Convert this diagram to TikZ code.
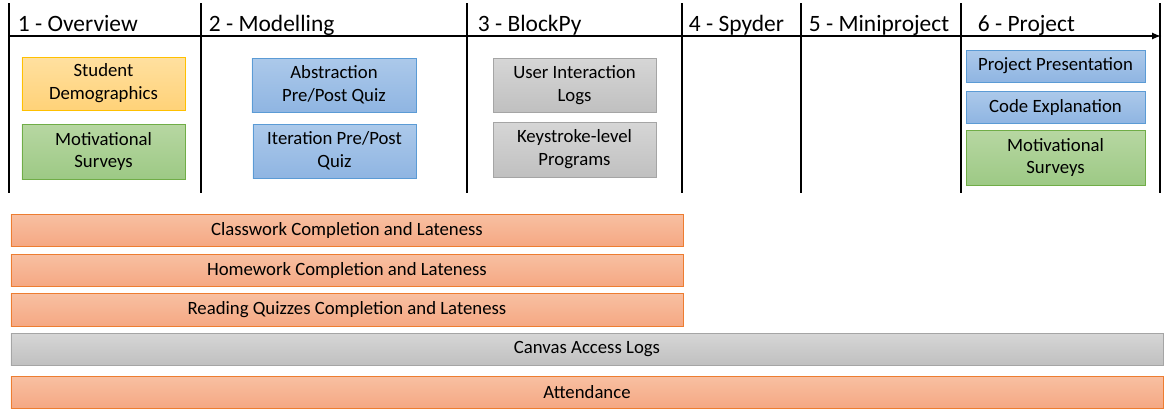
\documentclass[tikz,border=0pt]{standalone}
\usepackage{fontspec}
\setmainfont{Carlito}
\usetikzlibrary{arrows}

\definecolor{yelline}{HTML}{FFC000}
\definecolor{greline}{HTML}{70AD47}
\definecolor{bluline}{HTML}{5B9BD5}
\definecolor{grayline}{HTML}{A5A5A5}
\definecolor{orgline}{HTML}{ED7D31}

\tikzset{
    phase/.style={anchor=base west, inner sep=0pt, font=\fontsize{20}{24}\selectfont},
    databox/.style={draw, line width=0.8pt, inner sep=0pt, align=center,
        font=\fontsize{16}{19.5}\selectfont},
    yelbox/.style={databox, draw=yelline, top color={rgb,255:red,255;green,224;blue,160}, bottom color={rgb,255:red,255;green,210;blue,120}},
    grebox/.style={databox, draw=greline, top color={rgb,255:red,183;green,215;blue,162}, bottom color={rgb,255:red,157;green,201;blue,133}},
    blubox/.style={databox, draw=bluline, top color={rgb,255:red,172;green,201;blue,234}, bottom color={rgb,255:red,143;green,181;blue,226}},
    graybox/.style={databox, draw=grayline, top color={rgb,255:red,214;green,214;blue,214}, bottom color={rgb,255:red,192;green,192;blue,192}},
    orgbox/.style={databox, draw=orgline, top color={rgb,255:red,248;green,192;blue,162}, bottom color={rgb,255:red,245;green,168;blue,131}},
}

\begin{document}
\begin{tikzpicture}[x=0.03cm, y=-0.03cm, line width=1.6pt]
    \useasboundingbox (0,0) rectangle (1170,415);

    % Time line
    \coordinate (start) at (9,36);
    \coordinate (end) at (1161,36);
    \draw[-latex] (start) -- (end);

    % Phase borders
    \foreach \x in {9,201,467,682,801,961,1160}
        \draw (\x,3) -- (\x,193);

    \node[phase] (overview) at (17,31) {1 - Overview};
    \node[phase] (modelling) at (208,31) {2 - Modelling};
    \node[phase] (blockpy) at (477,31) {3 - BlockPy};
    \node[phase] (spyder) at (688,31) {4 - Spyder};
    \node[phase] (miniproj) at (808,31) {5 - Miniproject};
    \node[phase] (project) at (977,31) {6 - Project};

    % 1 - Overview
    \node[yelbox, minimum width=4.89cm, minimum height=1.59cm] (demo) at (103.5,83.5) {Student\\Demographics};% draw the box
    \node[grebox, minimum width=4.89cm, minimum height=1.65cm] (survey) at (103.5,151.5) {Motivational\\Surveys};% draw the box

    % 2 - Modelling
    \node[blubox, minimum width=4.92cm, minimum height=1.62cm] (abstr) at (334,85) {Abstraction\\Pre/Post Quiz};% draw the box
    \node[blubox, minimum width=4.89cm, minimum height=1.62cm] (iter) at (334.5,151) {Iteration Pre/Post\\Quiz};% draw the box

    % 3 - BlockPy
    \node[graybox, minimum width=4.89cm, minimum height=1.62cm] (logs) at (574.5,85) {User Interaction\\Logs};% draw the box
    \node[graybox, minimum width=4.89cm, minimum height=1.65cm] (keys) at (574.5,149.5) {Keystroke-level\\Programs};% draw the box

    % 6 - Project
    \node[blubox, minimum width=5.37cm, minimum height=0.96cm] (pres) at (1055.5,66) {Project Presentation};% draw the box
    \node[blubox, minimum width=5.37cm, minimum height=0.96cm] (code) at (1055.5,107) {Code Explanation};% draw the box
    \node[grebox, minimum width=5.37cm, minimum height=1.65cm] (survey2) at (1055.5,157.5) {Motivational\\Surveys};% draw the box

    % Whole course
    \node[orgbox, minimum width=20.16cm, minimum height=0.96cm] (classwork) at (347,230) {Classwork Completion and Lateness};
    \node[orgbox, minimum width=20.16cm, minimum height=0.96cm] (homework) at (347,270) {Homework Completion and Lateness};
    \node[orgbox, minimum width=20.16cm, minimum height=0.99cm] (reading) at (347,309.5) {Reading Quizzes Completion and Lateness};
    \node[graybox, minimum width=34.56cm, minimum height=0.96cm] (canvas) at (587,349) {Canvas Access Logs};
    \node[orgbox, minimum width=34.56cm, minimum height=0.96cm] (attend) at (587,392) {Attendance};

\end{tikzpicture}
\end{document}
